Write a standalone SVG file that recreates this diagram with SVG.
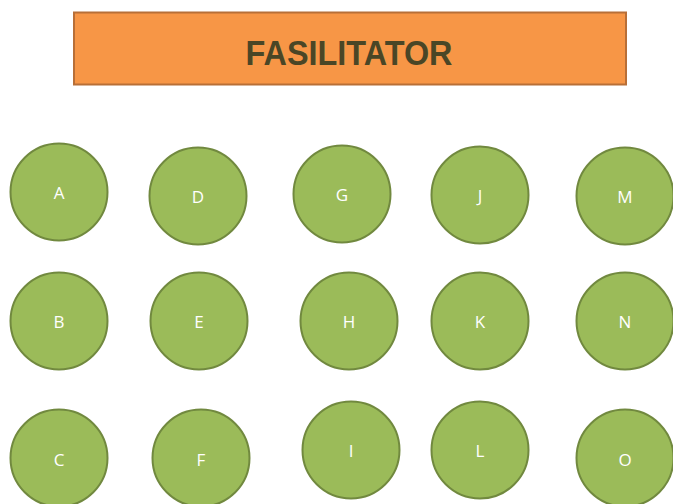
<svg xmlns="http://www.w3.org/2000/svg" width="673" height="504" viewBox="0 0 673 504">
<style>
.seat{fill:#9BBB59;stroke:#71893F;stroke-width:2}
.lbl{font-family:"Open Sans","Liberation Sans",sans-serif;font-size:17px;fill:#ffffff;text-anchor:middle}
.title{font-family:"Liberation Sans",Arial,sans-serif;font-weight:bold;font-size:35px;fill:#4A4626;text-anchor:middle}
</style>
<rect width="673" height="504" fill="#ffffff"/>
<g id="fasilitator">
<rect x="74" y="12.5" width="552" height="72" fill="#F79646" stroke="#B86F37" stroke-width="2"/>
<text class="title" x="349" y="65" textLength="207" lengthAdjust="spacingAndGlyphs">FASILITATOR</text>
</g>
<g id="connectors"></g>
<g id="A"><circle class="seat" cx="59" cy="192" r="48.5"/><text class="lbl" x="59" y="199">A</text></g>
<g id="D"><circle class="seat" cx="198" cy="196" r="48.5"/><text class="lbl" x="198" y="203">D</text></g>
<g id="G"><circle class="seat" cx="342" cy="194" r="48.5"/><text class="lbl" x="342" y="201">G</text></g>
<g id="J"><circle class="seat" cx="480" cy="195" r="48.5"/><text class="lbl" x="480" y="202">J</text></g>
<g id="M"><circle class="seat" cx="625" cy="196" r="48.5"/><text class="lbl" x="625" y="203">M</text></g>
<g id="B"><circle class="seat" cx="59" cy="321" r="48.5"/><text class="lbl" x="59" y="328">B</text></g>
<g id="E"><circle class="seat" cx="199" cy="321" r="48.5"/><text class="lbl" x="199" y="328">E</text></g>
<g id="H"><circle class="seat" cx="349" cy="321" r="48.5"/><text class="lbl" x="349" y="328">H</text></g>
<g id="K"><circle class="seat" cx="480" cy="321" r="48.5"/><text class="lbl" x="480" y="328">K</text></g>
<g id="N"><circle class="seat" cx="625" cy="321" r="48.5"/><text class="lbl" x="625" y="328">N</text></g>
<g id="C"><circle class="seat" cx="59" cy="458" r="48.5"/><text class="lbl" x="59" y="466">C</text></g>
<g id="F"><circle class="seat" cx="201" cy="458" r="48.5"/><text class="lbl" x="201" y="466">F</text></g>
<g id="I"><circle class="seat" cx="351" cy="450" r="48.5"/><text class="lbl" x="351" y="457">I</text></g>
<g id="L"><circle class="seat" cx="480" cy="450" r="48.5"/><text class="lbl" x="480" y="457">L</text></g>
<g id="O"><circle class="seat" cx="625" cy="458" r="48.5"/><text class="lbl" x="625" y="466">O</text></g>
</svg>
